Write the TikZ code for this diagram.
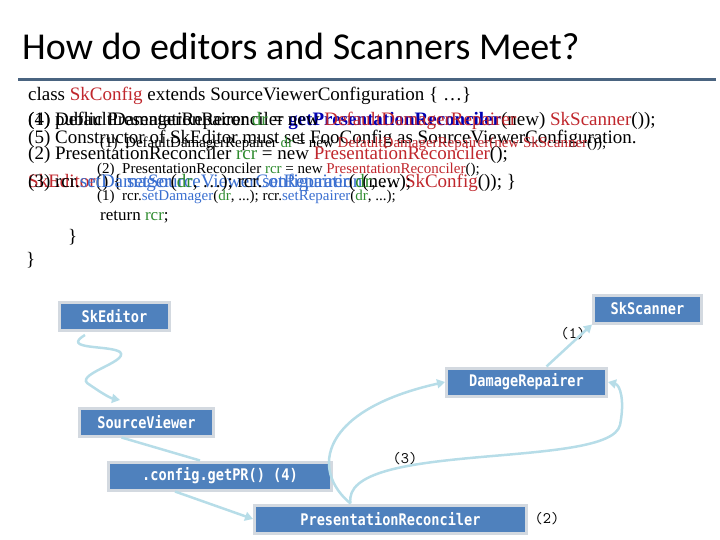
\documentclass[tikz,border=0pt]{standalone}
\usepackage{fontspec}
\setmainfont{Liberation Serif}
\newfontfamily\titlefont{Carlito}
\newfontfamily\boxfont{DejaVu Sans Mono}[FakeStretch=0.85]
\usetikzlibrary{decorations.pathmorphing,arrows.meta}
\definecolor{boxblue}{HTML}{4F81BD}
\definecolor{boxedge}{HTML}{D3D9E0}
\definecolor{conn}{HTML}{B7DDE8}
\definecolor{cred}{HTML}{C0272D}
\definecolor{cblue}{HTML}{3A6FD0}
\definecolor{cgreen}{HTML}{2E8B2E}
\definecolor{rule}{HTML}{4A6480}
\tikzset{
 bx/.style={fill=boxblue,draw=boxedge,line width=3pt,text=white,font=\boxfont\bfseries\fontsize{16}{16}\selectfont,inner xsep=4pt,inner ysep=4pt,minimum height=28pt,anchor=west},
 code/.style={anchor=base west,inner sep=0pt,font=\fontsize{19}{19}\selectfont},
 small/.style={anchor=base west,inner sep=0pt,font=\fontsize{15}{15}\selectfont},
 lbl/.style={font=\ttfamily\fontsize{16}{16}\selectfont},
 cn/.style={draw=conn,line width=2.5pt},
 ar/.style={cn,-{Triangle[length=8pt,width=9pt]}}
}
\begin{document}
\begin{tikzpicture}[x=1pt,y=-1pt]
\useasboundingbox (0,0) rectangle (720,540);
\node[anchor=base west,inner sep=0pt,font=\titlefont\fontsize{38}{38}\selectfont] (title) at (22,60) {How do editors and Scanners Meet?};
\draw[rule,line width=3pt] (18,80) -- (716,80);
\node[code] (c1) at (28,101) {class \textcolor{cred}{SkConfig} extends SourceViewerConfiguration \{ …\}};
\node[code] (c2a) at (28,126) {(4) public PresentationReconciler \textcolor{blue!70!black}{\textbf{getPresentationReconciler}}(new) \textcolor{cred}{SkScanner}());};
\node[code] (c2b) at (28,126) {(1) DefaultDamagerRepairer \textcolor{cgreen}{dr} = new \textcolor{cred}{DefaultDamagerRepairer}};
\node[code] (c3) at (28,144) {(5) Constructor of SkEditor must set FooConfig as SourceViewerConfiguration.};
\node[small] (c3s) at (100,148) {(1)\ \ DefaultDamagerRepairer \textcolor{cgreen}{dr} = new \textcolor{cred}{DefaultDamagerRepairer(new SkScanner}());};
\node[code] (c4) at (28,160) {(2) PresentationReconciler \textcolor{cgreen}{rcr} = new \textcolor{cred}{PresentationReconciler}();};
\node[small] (c5s) at (97,174) {(2)\ \ PresentationReconciler \textcolor{cgreen}{rcr} = new \textcolor{cred}{PresentationReconciler}();};
\node[code] (c6a) at (28,188) {\textcolor{cred}{SkEditor}() \{ \textcolor{cblue}{setSourceViewerConfiguration}(new \textcolor{cred}{SkConfig}()); \}};
\node[code] (c6b) at (28,188) {(3) rcr.\textcolor{cblue}{setDamager}(\textcolor{cgreen}{dr}, …); rcr.\textcolor{cblue}{setRepairer}(\textcolor{cgreen}{dr}, …);};
\node[small] (c7s) at (97,201) {(1)\ \ rcr.\textcolor{cblue}{setDamager}(\textcolor{cgreen}{dr}, ...); rcr.\textcolor{cblue}{setRepairer}(\textcolor{cgreen}{dr}, ...);};
\node[code,font=\fontsize{17}{17}\selectfont] (c8) at (100,221) {return \textcolor{cgreen}{rcr};};
\node[code] (c9) at (68,243) {\}};
\node[code] (c10) at (26,265) {\}};
\node[bx,minimum width=110pt] (ske) at (58,316) {SkEditor};
\node[bx,minimum width=108pt] (sks) at (592,309) {SkScanner};
\node[bx,minimum width=160pt] (dr) at (445,382) {DamageRepairer};
\node[bx,minimum width=134pt] (sv) at (78,422) {SourceViewer};
\node[bx,minimum width=223pt] (cfg) at (107,476) {.config.getPR() (4)};
\node[bx,minimum width=272pt] (pr) at (253,519) {PresentationReconciler};
\node[lbl] (l1) at (573,334) {(1)};
\node[lbl] (l2) at (547,519) {(2)};
\node[lbl] (l3) at (405,459) {(3)};
\draw[ar] (85,335) .. controls (60,350) and (110,345) .. (120,352) .. controls (130,362) and (70,375) .. (90,385) .. controls (100,392) and (110,398) .. (120,400);
\draw[cn] (sv.south) ++(-25,0) -- ([xshift=-20pt]cfg.north);
\draw[ar] ([xshift=-45pt]cfg.south) -- (pr.west);
\draw[ar] ([xshift=-40pt]pr.north) .. controls (310,470) and (320,410) .. (dr.west);
\draw[ar] ([xshift=-40pt]pr.north) .. controls (340,440) and (610,470) .. (620,425) .. controls (625,400) and (620,385) .. (dr.east);
\draw[ar] ([xshift=20pt]dr.north) -- (sks.south west);
\end{tikzpicture}
\end{document}
